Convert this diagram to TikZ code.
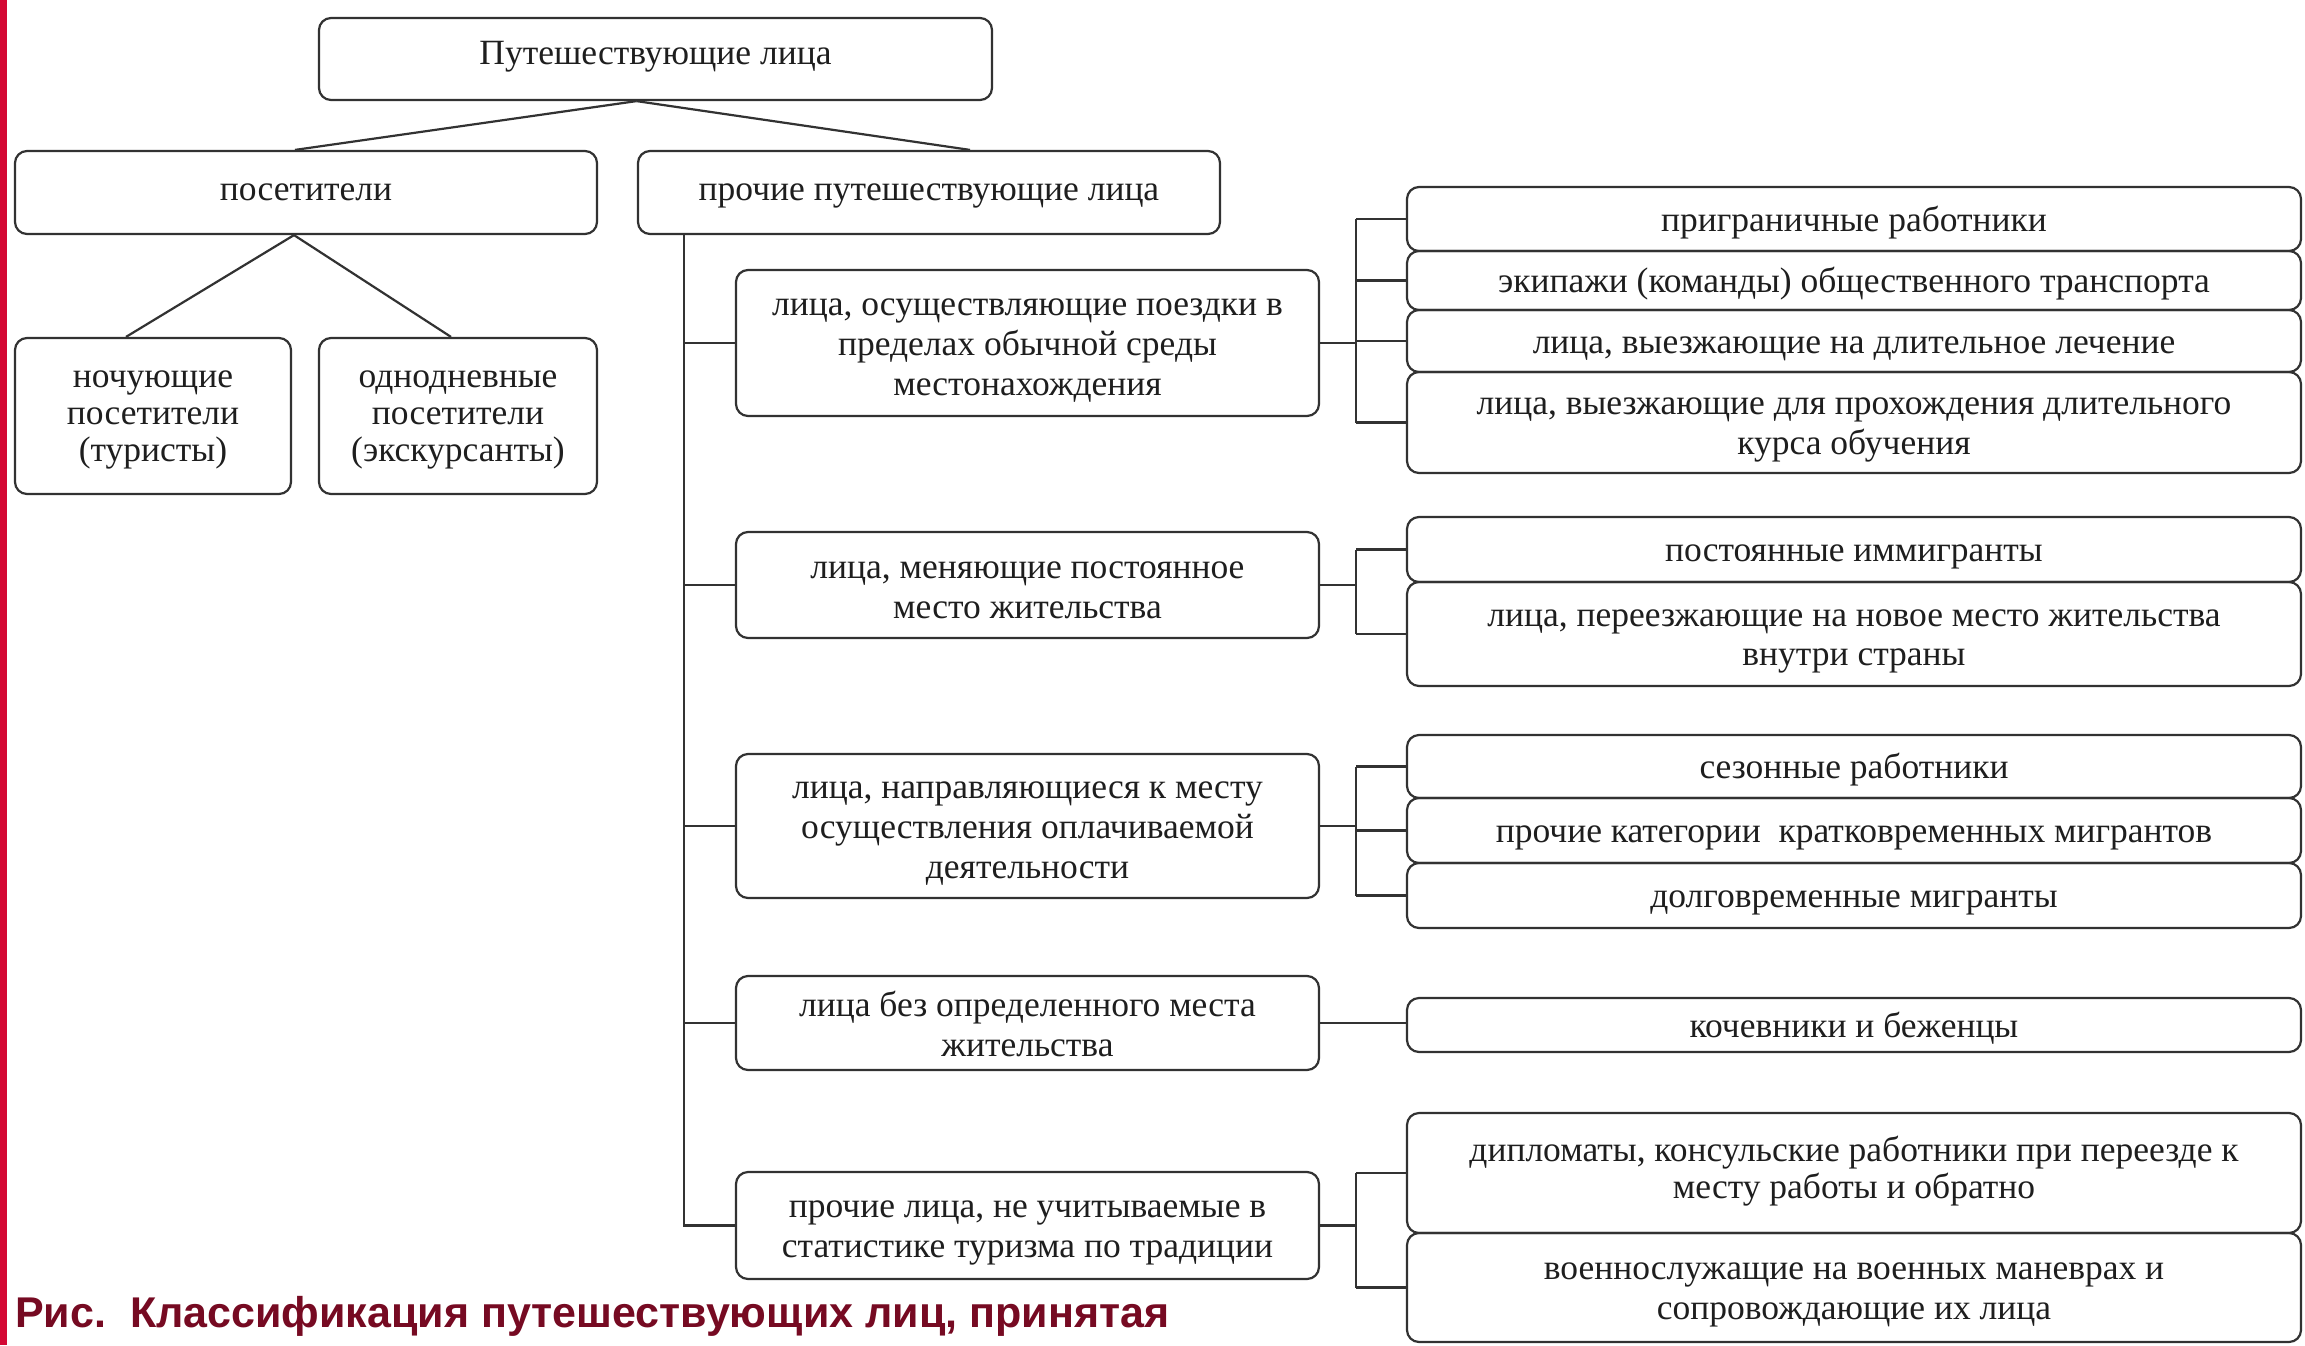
\documentclass[tikz,border=0pt]{standalone}
\usepackage{fontspec}
\setmainfont{Liberation Serif}
\newfontfamily\capfont{Liberation Sans}
\definecolor{linec}{RGB}{50,50,50}
\definecolor{txtc}{RGB}{30,30,30}
\definecolor{barred}{RGB}{212,8,52}
\definecolor{capred}{RGB}{118,10,34}
\newcommand\bxstrut[1]{\setbox\strutbox\hbox{\vrule height #1 depth \dimexpr37pt-#1\relax width 0pt}}
\newcommand\bx[2][32pt]{{\fontsize{35.5}{37}\selectfont\bxstrut{#1}\begin{tabular}{@{}c@{}}#2\end{tabular}}}
\tikzset{
  box/.style={draw=linec, line width=2.2pt, rounded corners=12pt, inner sep=0pt, text=txtc},
  link/.style={draw=linec, line width=2.2pt}
}
\begin{document}
\begin{tikzpicture}[x=1pt,y=-1pt]
\useasboundingbox (0,0) rectangle (2305,1345);
\fill[white] (0,0) rectangle (2305,1345);
\fill[barred] (0,0) rectangle (7,1345);

% top level
\node[box, minimum width=673pt, minimum height=82pt] (top) at (655.5,59) {\bx[24pt]{Путешествующие лица}};
\node[box, minimum width=582pt, minimum height=83pt] (vis) at (306,192.5) {\bx[26.5pt]{посетители}};
\node[box, minimum width=582pt, minimum height=83pt] (oth) at (929,192.5) {\bx[26.5pt]{прочие путешествующие лица}};
\node[box, minimum width=276pt, minimum height=156pt] (noch) at (153,416) {\bx[27pt]{ночующие\\посетители\\(туристы)}};
\node[box, minimum width=278pt, minimum height=156pt] (odn) at (458,416) {\bx[27pt]{однодневные\\посетители\\(экскурсанты)}};

% middle column
\node[box, minimum width=583pt, minimum height=146pt] (A) at (1027.5,343) {\bx{лица, осуществляющие поездки в\\пределах обычной среды\\местонахождения}};
\node[box, minimum width=583pt, minimum height=106pt] (B) at (1027.5,585) {\bx{лица, меняющие постоянное\\место жительства}};
\node[box, minimum width=583pt, minimum height=144pt] (C) at (1027.5,826) {\bx{лица, направляющиеся к месту\\осуществления оплачиваемой\\деятельности}};
\node[box, minimum width=583pt, minimum height=94pt] (D) at (1027.5,1023) {\bx{лица без определенного места\\жительства}};
\node[box, minimum width=583pt, minimum height=107pt] (E) at (1027.5,1225.5) {\bx{прочие лица, не учитываемые в\\статистике туризма по традиции}};

% right column
\node[box, minimum width=894pt, minimum height=64pt] (r1) at (1854,219) {\bx{приграничные работники}};
\node[box, minimum width=894pt, minimum height=59pt] (r2) at (1854,280.5) {\bx{экипажи (команды) общественного транспорта}};
\node[box, minimum width=894pt, minimum height=62pt] (r3) at (1854,341) {\bx{лица, выезжающие на длительное лечение}};
\node[box, minimum width=894pt, minimum height=101pt] (r4) at (1854,422.5) {\bx{лица, выезжающие для прохождения длительного\\курса обучения}};
\node[box, minimum width=894pt, minimum height=65pt] (r5) at (1854,549.5) {\bx{постоянные иммигранты}};
\node[box, minimum width=894pt, minimum height=104pt] (r6) at (1854,634) {\bx{лица, переезжающие на новое место жительства\\внутри страны}};
\node[box, minimum width=894pt, minimum height=63pt] (r7) at (1854,766.5) {\bx{сезонные работники}};
\node[box, minimum width=894pt, minimum height=65pt] (r8) at (1854,830.5) {\bx{прочие категории\ \ кратковременных мигрантов}};
\node[box, minimum width=894pt, minimum height=65pt] (r9) at (1854,895.5) {\bx{долговременные мигранты}};
\node[box, minimum width=894pt, minimum height=54pt] (r10) at (1854,1025) {\bx{кочевники и беженцы}};
\node[box, minimum width=894pt, minimum height=120pt] (r11) at (1854,1173) {\bx[25pt]{дипломаты, консульские работники при переезде к\\месту работы и обратно}};
\node[box, minimum width=894pt, minimum height=109pt] (r12) at (1854,1287.5) {\bx{военнослужащие на военных маневрах и\\сопровождающие их лица}};

% tree links at top
\coordinate (tj) at ([xshift=-19pt]top.south);
\draw[link] (tj) -- ([xshift=-11pt]vis.north);
\draw[link] (tj) -- ([xshift=41pt]oth.north);
\coordinate (vj) at ([xshift=-12pt]vis.south);
\draw[link] (vj) -- ([xshift=-27pt]noch.north);
\draw[link] (vj) -- ([xshift=-7pt]odn.north);

% trunk
\coordinate (tr) at ([xshift=-245pt]oth.south);
\draw[link] (tr) |- (E.west);
\draw[link] (tr |- A.west) -- (A.west);
\draw[link] (tr |- B.west) -- (B.west);
\draw[link] (tr |- C.west) -- (C.west);
\draw[link] (tr |- D.west) -- (D.west);

% brackets
\coordinate (bA) at ([xshift=36pt]A.east);
\draw[link] (A.east) -- (bA);
\draw[link] (bA |- r1.west) -- (bA |- r4.west);
\foreach \r in {r1,r2,r3,r4} \draw[link] (bA |- \r.west) -- (\r.west);

\coordinate (bB) at ([xshift=36pt]B.east);
\draw[link] (B.east) -- (bB);
\draw[link] (bB |- r5.west) -- (bB |- r6.west);
\foreach \r in {r5,r6} \draw[link] (bB |- \r.west) -- (\r.west);

\coordinate (bC) at ([xshift=36pt]C.east);
\draw[link] (C.east) -- (bC);
\draw[link] (bC |- r7.west) -- (bC |- r9.west);
\foreach \r in {r7,r8,r9} \draw[link] (bC |- \r.west) -- (\r.west);

\draw[link] (D.east) -- (D.east -| r10.west);

\coordinate (bE) at ([xshift=36pt]E.east);
\draw[link] (E.east) -- (bE);
\draw[link] (bE |- r11.west) -- (bE |- r12.west);
\foreach \r in {r11,r12} \draw[link] (bE |- \r.west) -- (\r.west);

% caption
\node[anchor=base west, inner sep=0pt, text=capred, font=\capfont\bfseries\fontsize{43}{48}\selectfont] (cap) at (15,1327) {Рис.\ \ Классификация путешествующих лиц, принятая};
\end{tikzpicture}
\end{document}
